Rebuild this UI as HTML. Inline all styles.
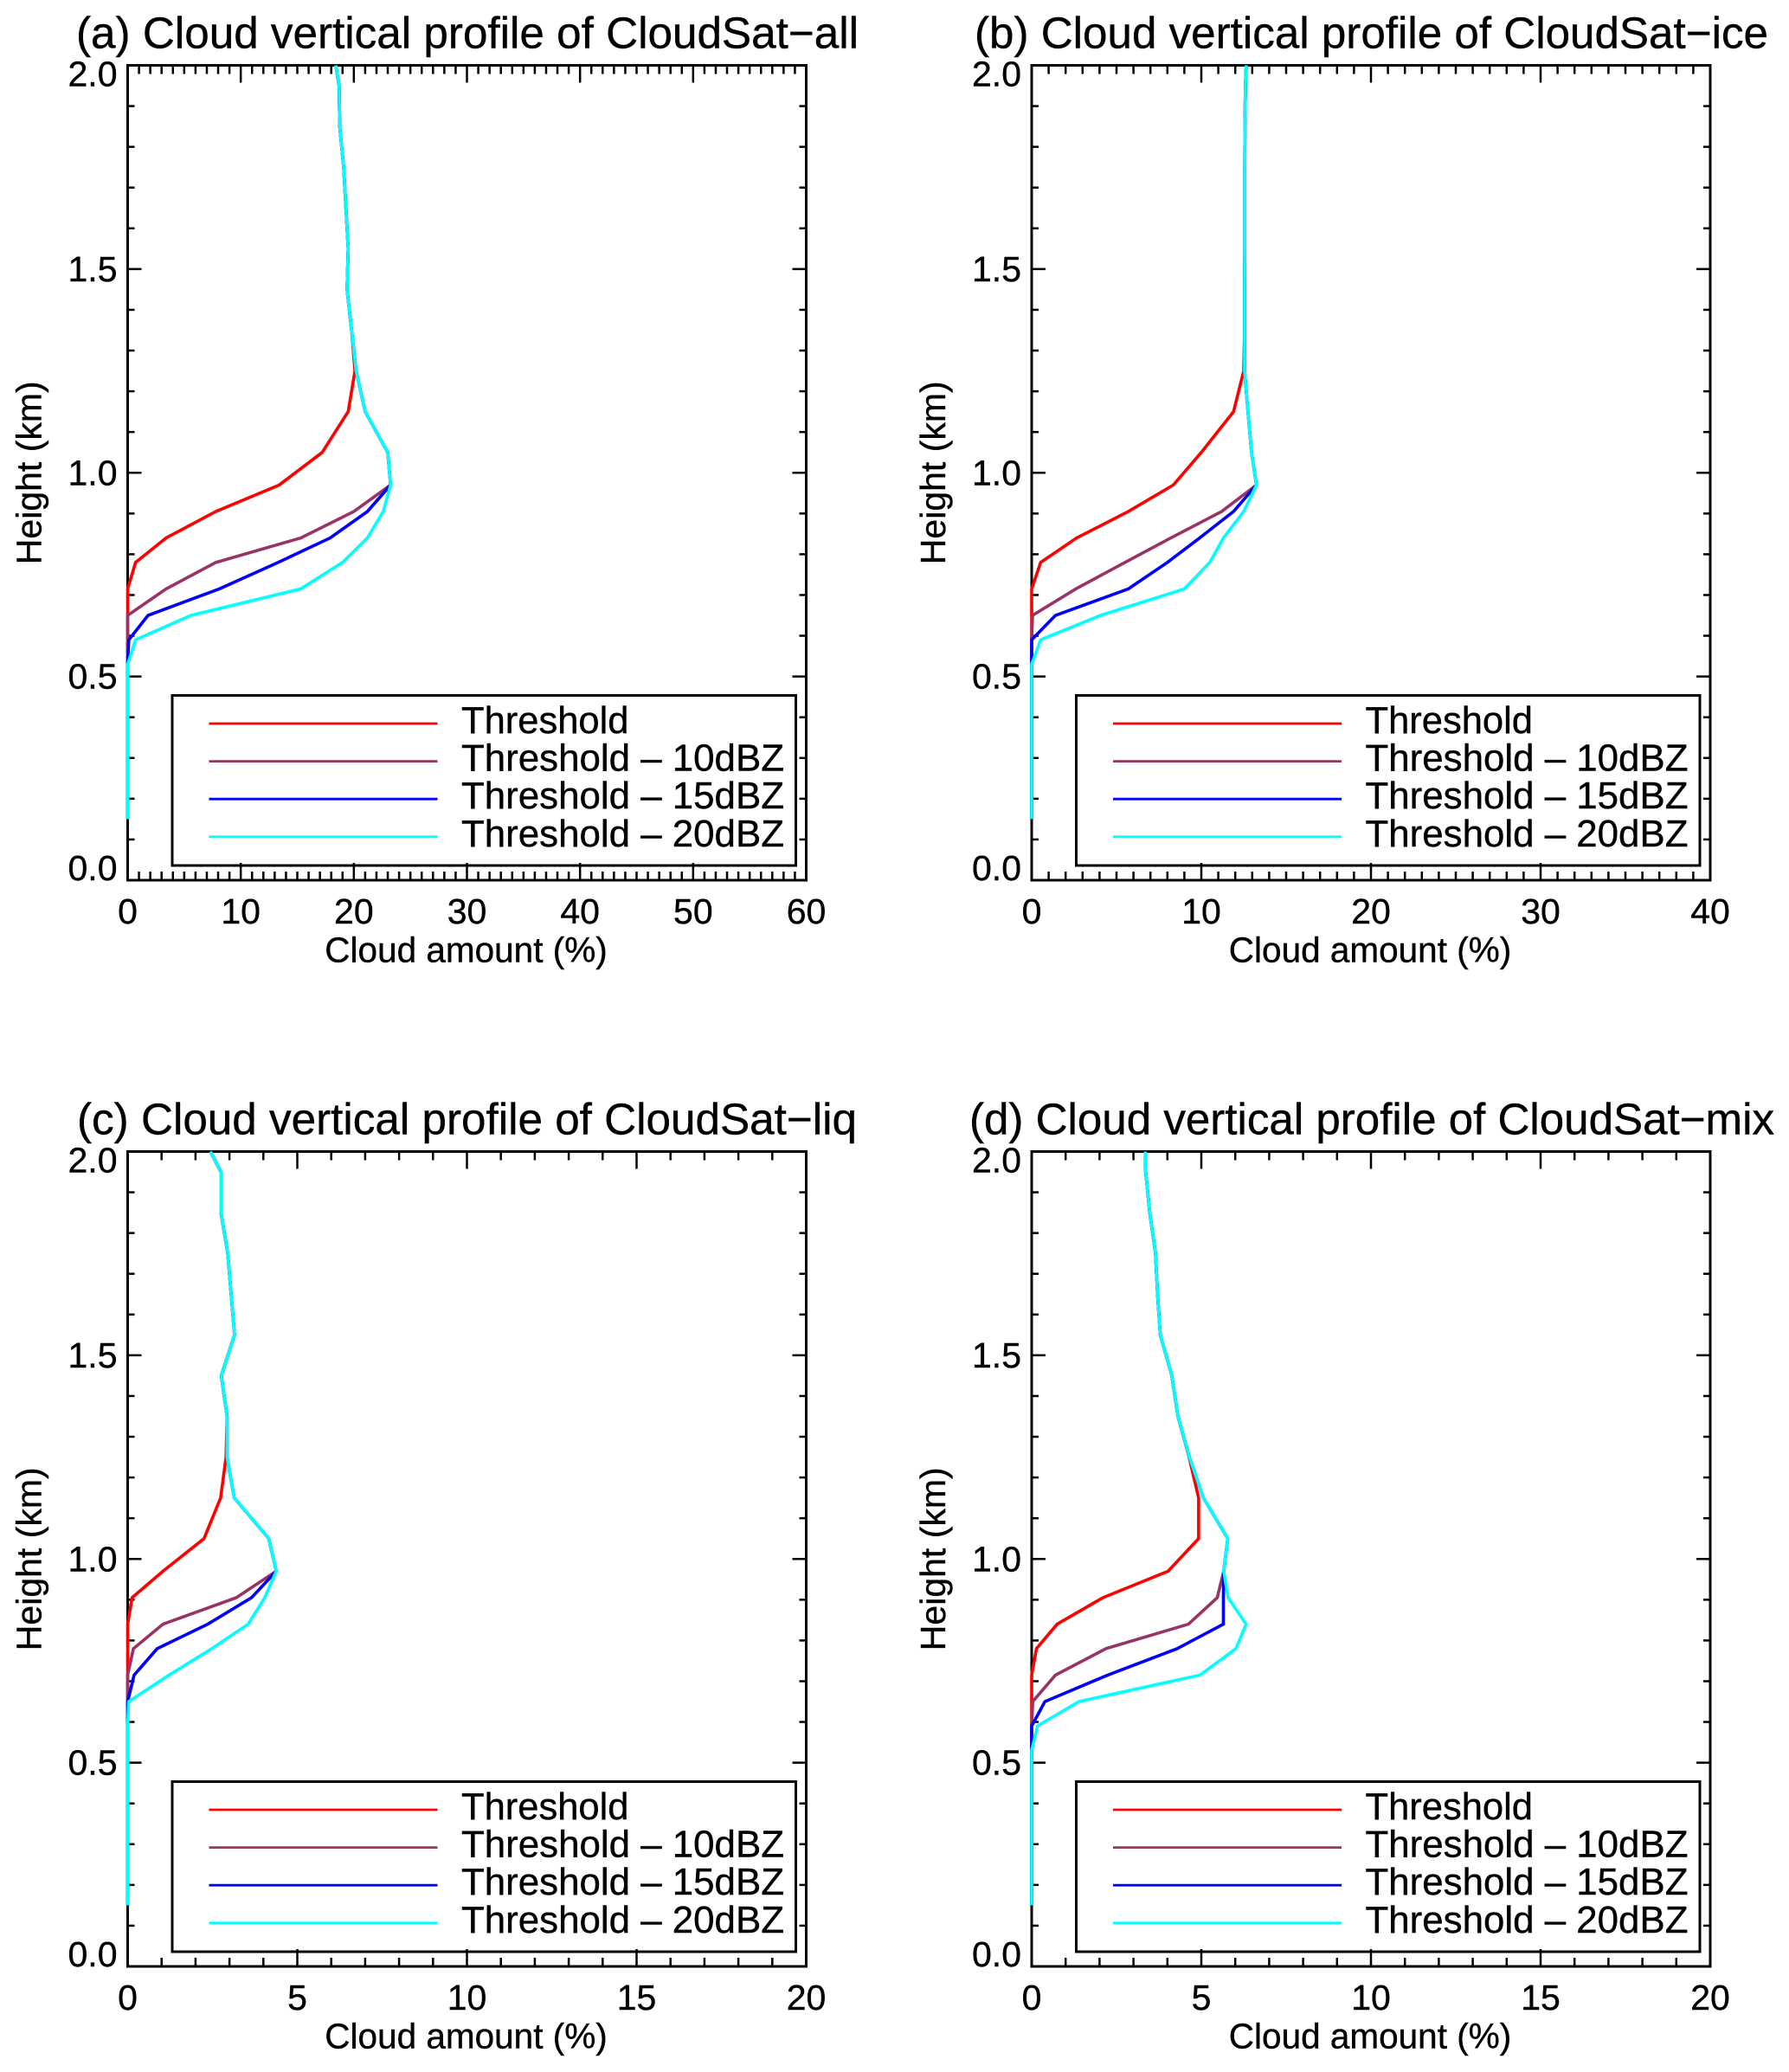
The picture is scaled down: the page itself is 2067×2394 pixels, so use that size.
<!DOCTYPE html>
<html>
<head>
<meta charset="utf-8">
<title>Cloud vertical profiles of CloudSat</title>
<style>
html,body{margin:0;padding:0;background:#fff;}
svg{display:block;}
text{font-family:"Liberation Sans",Arial,sans-serif;fill:#000;stroke:#000;stroke-width:0.4;}
</style>
</head>
<body>
<svg id="figure" xmlns="http://www.w3.org/2000/svg" width="2067" height="2394" viewBox="0 0 2067 2394"></svg>
<script>
// Shared height bins (km)
const heights = [2.0,1.95,1.85,1.75,1.65,1.55,1.45,1.35,1.25,1.15,1.05,0.97,0.905,0.84,0.78,0.715,0.65,0.59,0.53,0.47,0.41,0.35,0.29,0.23,0.15];
const yTickLabels = ["0.0","0.5","1.0","1.5","2.0"];
const seriesNames = ["Threshold","Threshold – 10dBZ","Threshold – 15dBZ","Threshold – 20dBZ"];

// Panel (a)
const aTitle = "(a) Cloud vertical profile of CloudSat−all";
const aXTicks = [0,10,20,30,40,50,60];
const aThreshold = [18.4,18.7,18.75,19.1,19.3,19.5,19.4,19.8,20.1,19.5,17.2,13.4,7.8,3.4,0.7,0,0,0,0,0,0,0,0,0,0];
const aMinus10 = [18.4,18.7,18.75,19.1,19.3,19.5,19.4,19.8,20.2,21.0,23.0,23.25,20.0,15.3,7.8,3.4,0,0,0,0,0,0,0,0,0];
const aMinus15 = [18.4,18.7,18.75,19.1,19.3,19.5,19.4,19.8,20.2,21.0,23.0,23.25,21.2,17.9,13.3,8.1,1.8,0.1,0,0,0,0,0,0,0];
const aMinus20 = [18.4,18.7,18.75,19.1,19.3,19.5,19.4,19.8,20.2,21.0,23.0,23.25,22.6,21.2,19.0,15.3,5.6,0.7,0,0,0,0,0,0,0];

// Panel (b)
const bTitle = "(b) Cloud vertical profile of CloudSat−ice";
const bXTicks = [0,10,20,30,40];
const bThreshold = [12.65,12.6,12.57,12.56,12.56,12.56,12.55,12.55,12.5,11.9,10.0,8.35,5.7,2.65,0.53,0,0,0,0,0,0,0,0,0,0];
const bMinus10 = [12.65,12.6,12.57,12.56,12.56,12.56,12.55,12.55,12.55,12.75,12.96,13.25,11.2,8.2,5.5,2.6,0.05,0,0,0,0,0,0,0,0];
const bMinus15 = [12.65,12.6,12.57,12.56,12.56,12.56,12.55,12.55,12.55,12.75,12.96,13.25,11.9,9.9,8.0,5.7,1.4,0,0,0,0,0,0,0,0];
const bMinus20 = [12.65,12.6,12.57,12.56,12.56,12.56,12.55,12.55,12.55,12.75,12.96,13.25,12.5,11.3,10.5,9.0,4.05,0.53,0,0,0,0,0,0,0];

// Panel (c)
const cTitle = "(c) Cloud vertical profile of CloudSat−liq";
const cXTicks = [0,5,10,15,20];
const cThreshold = [2.44,2.75,2.75,2.95,3.05,3.15,2.76,2.93,2.9,2.74,2.25,1.04,0.13,0,0,0,0,0,0,0,0,0,0,0,0];
const cMinus10 = [2.44,2.75,2.75,2.95,3.05,3.15,2.76,2.93,2.93,3.14,4.16,4.38,3.2,1.04,0.17,0,0,0,0,0,0,0,0,0,0];
const cMinus15 = [2.44,2.75,2.75,2.95,3.05,3.15,2.76,2.93,2.93,3.14,4.16,4.38,3.65,2.36,0.87,0.19,0,0,0,0,0,0,0,0,0];
const cMinus20 = [2.44,2.75,2.75,2.95,3.05,3.15,2.76,2.93,2.93,3.14,4.16,4.38,4.04,3.55,2.48,1.22,0.03,0,0,0,0,0,0,0,0];

// Panel (d)
const dTitle = "(d) Cloud vertical profile of CloudSat−mix";
const dXTicks = [0,5,10,15,20];
const dThreshold = [3.35,3.36,3.48,3.65,3.71,3.79,4.13,4.31,4.64,4.92,4.92,4.02,2.1,0.75,0.14,0,0,0,0,0,0,0,0,0,0];
const dMinus10 = [3.35,3.36,3.48,3.65,3.71,3.79,4.13,4.31,4.65,5.06,5.78,5.66,5.47,4.62,2.19,0.7,0.03,0,0,0,0,0,0,0,0];
const dMinus15 = [3.35,3.36,3.48,3.65,3.71,3.79,4.13,4.31,4.65,5.06,5.78,5.66,5.65,5.65,4.29,2.24,0.39,0,0,0,0,0,0,0,0];
const dMinus20 = [3.35,3.36,3.48,3.65,3.71,3.79,4.13,4.31,4.65,5.06,5.78,5.66,5.79,6.32,6.02,4.96,1.39,0.17,0,0,0,0,0,0,0];

const seriesColors = ["#ff0000","#993366","#0000ff","#00ffff"];
const NS = "http://www.w3.org/2000/svg";
const figure = document.getElementById("figure");

function make(parent, tag, attrs, content) {
  const el = document.createElementNS(NS, tag);
  for (const key in attrs) {
    el.setAttribute(key, attrs[key]);
  }
  if (content !== undefined) {
    el.textContent = content;
  }
  parent.appendChild(el);
  return el;
}

function drawPanel(panelId, left, top, title, titleX, titleLen, xTicks, xMinorPerMajor, allSeries) {
  const plotW = 784;
  const plotH = 941.5;
  const right = left + plotW;
  const bottom = top + plotH;
  const xMax = xTicks[xTicks.length - 1];
  const xScale = function (v) { return left + (v / xMax) * plotW; };
  const yScale = function (v) { return bottom - (v / 2.0) * plotH; };

  const panel = make(figure, "g", {});
  
  

  const titleEl = make(panel, "text", {x: titleX, y: top - 20, "font-size": 51, textLength: titleLen, lengthAdjust: "spacingAndGlyphs"}, title);
  
  

  // Y ticks and labels
  const yAxis = make(panel, "g", {stroke: "#000", "stroke-width": 2.5});
  
  
  for (let i = 1; i < 20; i++) {
    const yv = i * 0.1;
    const len = i % 5 === 0 ? 16 : 8;
    make(yAxis, "line", {x1: left, x2: left + len, y1: yScale(yv), y2: yScale(yv)});
    make(yAxis, "line", {x1: right, x2: right - len, y1: yScale(yv), y2: yScale(yv)});
  }
  yTickLabels.forEach(function (label) {
    const value = parseFloat(label);
    let off = 14;
    if (value === 2) { off = 24; }
    if (value === 0) { off = 0; }
    const t = make(panel, "text", {x: left - 12, y: yScale(value) + off, "font-size": 41, "text-anchor": "end"}, label);
    
    
  });

  // X ticks and labels
  const xAxis = make(panel, "g", {stroke: "#000", "stroke-width": 2.5});
  
  
  const xStep = xTicks[1] - xTicks[0];
  const totalMinor = (xTicks.length - 1) * xMinorPerMajor;
  for (let i = 1; i < totalMinor; i++) {
    const xv = i * xStep / xMinorPerMajor;
    const len = i % xMinorPerMajor === 0 ? 20 : 10;
    make(xAxis, "line", {x1: xScale(xv), x2: xScale(xv), y1: top, y2: top + len});
    make(xAxis, "line", {x1: xScale(xv), x2: xScale(xv), y1: bottom, y2: bottom - len});
  }
  xTicks.forEach(function (value) {
    const t = make(panel, "text", {x: xScale(value), y: bottom + 50, "font-size": 41, "text-anchor": "middle"}, String(value));
    
    
  });

  const xTitle = make(panel, "text", {x: left + plotW / 2 - 1, y: bottom + 94.5, "font-size": 40.5, "text-anchor": "middle"}, "Cloud amount (%)");
  
  

  const yCenter = top + plotH / 2;
  const yTitle = make(panel, "text", {x: 0, y: 0, "font-size": 41, "text-anchor": "middle", transform: "translate(" + (left - 100) + "," + yCenter + ") rotate(-90)"}, "Height (km)");
  
  

  // Frame
  const frame = make(panel, "rect", {x: left, y: top, width: plotW, height: plotH, fill: "none", stroke: "#000", "stroke-width": 3});
  
  

  // Series
  allSeries.forEach(function (values, s) {
    const pts = values.map(function (v, i) {
      return xScale(v).toFixed(2) + "," + yScale(heights[i]).toFixed(2);
    }).join(" ");
    const line = make(panel, "polyline", {points: pts, fill: "none", stroke: seriesColors[s], "stroke-width": 3.6, "stroke-linejoin": "miter"});
    
    
  });

  // Legend
  const legend = make(panel, "g", {});
  
  
  const box = make(legend, "rect", {x: left + 51.5, y: bottom - 213.5, width: 720.5, height: 196.5, fill: "none", stroke: "#000", "stroke-width": 3});
  
  
  seriesNames.forEach(function (name, s) {
    const rowOffset = 43.6 * s;
    const swatch = make(legend, "line", {x1: left + 94, x2: left + 358, y1: bottom - 181 + rowOffset, y2: bottom - 181 + rowOffset, stroke: seriesColors[s], "stroke-width": 2.8});
    
    
    const labelAttrs = {x: left + 385.5, y: bottom - 170 + rowOffset, "font-size": 43.5};
    if (s > 0) {
      labelAttrs.textLength = 373;
      labelAttrs.lengthAdjust = "spacingAndGlyphs";
    }
    const label = make(legend, "text", labelAttrs, name);
    
    
  });
}

drawPanel("a", 147.5, 75.5, aTitle, 88, 904, aXTicks, 10, [aThreshold, aMinus10, aMinus15, aMinus20]);
drawPanel("b", 1192, 75.5, bTitle, 1126, 917, bXTicks, 10, [bThreshold, bMinus10, bMinus15, bMinus20]);
drawPanel("c", 147.5, 1330.5, cTitle, 89, 901, cXTicks, 5, [cThreshold, cMinus10, cMinus15, cMinus20]);
drawPanel("d", 1192, 1330.5, dTitle, 1120, 930, dXTicks, 5, [dThreshold, dMinus10, dMinus15, dMinus20]);
</script>
</body>
</html>
